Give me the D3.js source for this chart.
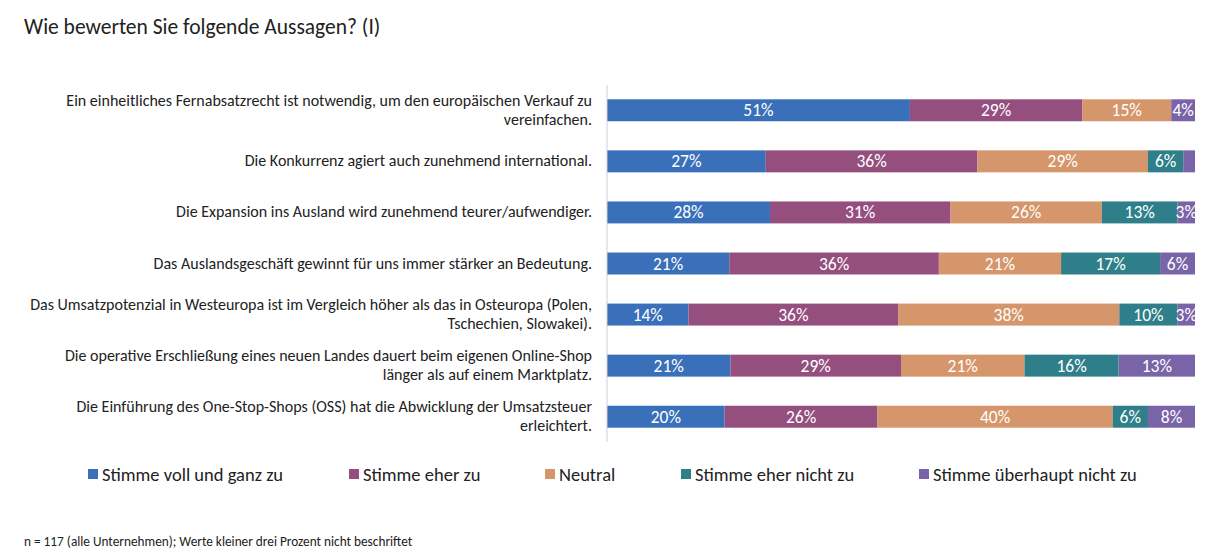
<!DOCTYPE html>
<html><head><meta charset="utf-8">
<script src="https://cdn.jsdelivr.net/npm/d3@7"></script>
<style>body{margin:0;background:#fff;font-family:Calibri,Carlito,"Liberation Sans",sans-serif}</style>
</head><body><svg id="c" width="1211" height="557"></svg>
<script>
var categories = [
  ["Ein einheitliches Fernabsatzrecht ist notwendig, um den europäischen Verkauf zu", "vereinfachen."],
  ["Die Konkurrenz agiert auch zunehmend international."],
  ["Die Expansion ins Ausland wird zunehmend teurer/aufwendiger."],
  ["Das Auslandsgeschäft gewinnt für uns immer stärker an Bedeutung."],
  ["Das Umsatzpotenzial in Westeuropa ist im Vergleich höher als das in Osteuropa (Polen,", "Tschechien, Slowakei)."],
  ["Die operative Erschließung eines neuen Landes dauert beim eigenen Online-Shop", "länger als auf einem Marktplatz."],
  ["Die Einführung des One-Stop-Shops (OSS) hat die Abwicklung der Umsatzsteuer", "erleichtert."]
];
var seriesNames = ["Stimme voll und ganz zu", "Stimme eher zu", "Neutral", "Stimme eher nicht zu", "Stimme überhaupt nicht zu"];
var colors = ["#3a6fba", "#944f7f", "#d4966a", "#2e7f89", "#7a64a8"];
var voll = [51, 27, 28, 21, 14, 21, 20];
var eher = [29, 36, 31, 36, 36, 29, 26];
var neutral = [15, 29, 26, 21, 38, 21, 40];
var eherNicht = [0, 6, 13, 17, 10, 16, 6];
var garNicht = [4, 2, 3, 6, 3, 13, 8];

var series = [voll, eher, neutral, eherNicht, garNicht];
var svg = d3.select("#c");
var x = d3.scaleLinear().domain([0, 1]).range([607, 1195]);
var y = d3.scaleBand().domain(d3.range(categories.length)).range([85, 442]).paddingInner(0.57).paddingOuter(0.28);

svg.append("text").attr("x", 24).attr("y", 34).attr("font-size", 21.5).attr("fill", "#222")
  .text("Wie bewerten Sie folgende Aussagen? (I)");

categories.forEach(function (lines, i) {
  var t = svg.append("text").attr("text-anchor", "end").attr("font-size", 16).attr("fill", "#222");
  var cy = y(i) + y.bandwidth() / 2;
  lines.forEach(function (l, k) {
    var dy = (k - (lines.length - 1) / 2) * 19 + 5;
    t.append("tspan").attr("x", 592).attr("y", cy + dy).text(l);
  });
  var total = d3.sum(series, function (s) { return s[i]; });
  var acc = 0;
  series.forEach(function (s, j) {
    var v = s[i];
    if (!v) return;
    var x0 = x(acc / total), x1 = x((acc + v) / total);
    svg.append("rect").attr("x", x0).attr("y", y(i)).attr("width", x1 - x0)
      .attr("height", y.bandwidth()).attr("fill", colors[j]);
    if (v >= 3) {
      svg.append("text").attr("x", (x0 + x1) / 2).attr("y", cy + 6).attr("text-anchor", "middle")
        .attr("font-size", 17.5).attr("fill", "#fff").text(v + "%");
    }
    acc += v;
  });
});

svg.append("line").attr("x1", 607).attr("x2", 607).attr("y1", 85).attr("y2", 442).attr("stroke", "#d0d0d0");

var lx = [88, 349, 545, 681, 919];
seriesNames.forEach(function (n, j) {
  svg.append("rect").attr("x", lx[j]).attr("y", 469).attr("width", 10).attr("height", 10).attr("fill", colors[j]);
  svg.append("text").attr("x", lx[j] + 14).attr("y", 481).attr("font-size", 18.5).attr("fill", "#222").text(n);
});

svg.append("text").attr("x", 24).attr("y", 546).attr("font-size", 13.3).attr("fill", "#222")
  .text("n = 117 (alle Unternehmen); Werte kleiner drei Prozent nicht beschriftet");
</script></body></html>
